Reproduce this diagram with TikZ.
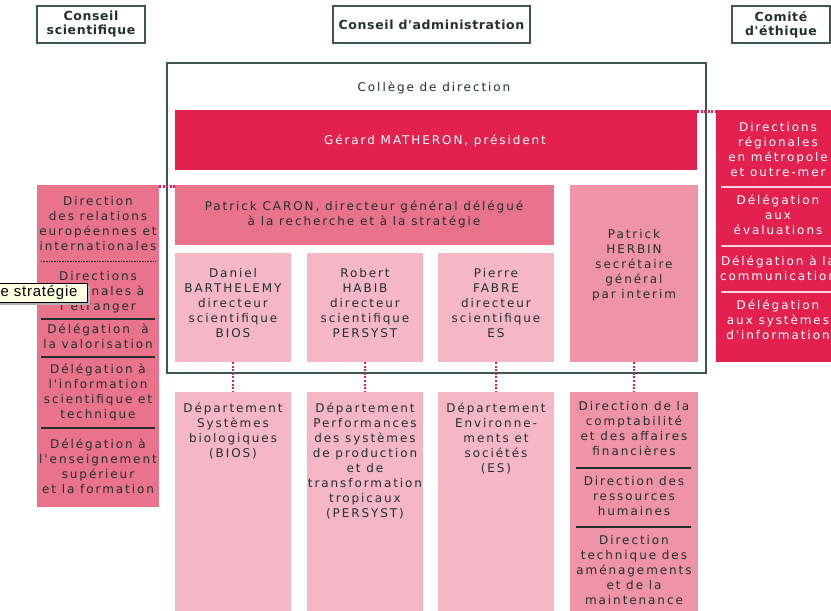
\documentclass[tikz,border=0pt]{standalone}
\usepackage{fontspec}
\setmainfont{DejaVu Sans}
\newfontfamily\vfont[LetterSpace=16]{DejaVu Sans}
\newfontfamily\hfont[LetterSpace=5]{DejaVu Sans}
\newfontfamily\tipfont[LetterSpace=5]{Liberation Sans}
\definecolor{crim}{HTML}{E2214F}
\definecolor{mpink}{HTML}{E9738B}
\definecolor{ppink}{HTML}{EF93A6}
\definecolor{lpink}{HTML}{F5B7C5}
\definecolor{ink}{HTML}{223030}
\definecolor{framec}{HTML}{3C5656}
\definecolor{tipbg}{HTML}{FFFFE1}
\tikzset{
  bx/.style={inner sep=0pt, outer sep=0pt, draw=none},
  hdr/.style={bx, draw=framec, line width=1.2pt, font=\hfont\bfseries\fontsize{12.5}{14}\selectfont, text=ink, align=center},
  tx/.style={inner sep=0pt, anchor=north, align=center, text=ink, font=\vfont\fontsize{12}{15}\selectfont},
  wtx/.style={tx, text=white},
  dotc/.style={draw=crim, line width=2.2pt, dash pattern=on 2pt off 1.6pt},
  sepd/.style={draw=ink, line width=1.3pt},
  sepw/.style={draw=white!80!crim, line width=1.3pt},
}
\newcommand{\bxat}[6]{\node[bx,fill=#6,minimum width=#4-#2,minimum height=#5-#3] (#1) at ({(#2+#4)/2},{(#3+#5)/2}) {};}
\begin{document}
\begin{tikzpicture}[x=1pt,y=-1pt]
\useasboundingbox (0,0) rectangle (831,611);
\clip (0,0) rectangle (831,611);
% headers
\node[hdr, minimum width=108, minimum height=37] (cs) at (91,24.5) {Conseil\\scientifique};
\node[hdr, minimum width=197, minimum height=37] (ca) at (431.5,24.5) {Conseil d'administration};
\node[hdr, minimum width=98, minimum height=37] (ce) at (781,24.5) {Comité\\d'éthique};
% frame
\node[bx, draw=framec, line width=1.3pt, minimum width=539, minimum height=310] (frame) at (436.5,218) {};
\node[tx] (coll) at (434,82) {Collège de direction};
% boxes
\bxat{pres}{175}{110}{697}{170}{crim}
\bxat{caron}{175}{185}{554}{245}{mpink}
\bxat{herbin}{570}{185}{698}{362}{ppink}
\bxat{bios}{175}{253}{291}{362}{lpink}
\bxat{pers}{307}{253}{423}{362}{lpink}
\bxat{es}{438}{253}{554}{362}{lpink}
\bxat{dbios}{175}{392}{291}{620}{lpink}
\bxat{dpers}{307}{392}{423}{620}{lpink}
\bxat{des}{438}{392}{554}{620}{lpink}
\bxat{dadm}{570}{392}{698}{620}{ppink}
\bxat{left}{37}{185}{159}{507}{mpink}
\bxat{right}{716}{110}{840}{362}{crim}
% texts
\node[wtx] at (435,134.5) {Gérard MATHERON, président};
\node[tx] at (364,201) {Patrick CARON, directeur général délégué\\à la recherche et à la stratégie};
\node[tx] at (634,229) {Patrick\\HERBIN\\secrétaire\\général\\par interim};
\node[tx] at (233,268) {Daniel\\BARTHELEMY\\directeur\\scientifique\\BIOS};
\node[tx] at (365,268) {Robert\\HABIB\\directeur\\scientifique\\PERSYST};
\node[tx] at (496,268) {Pierre\\FABRE\\directeur\\scientifique\\ES};
\node[tx] at (233,402.5) {Département\\Systèmes\\biologiques\\(BIOS)};
\node[tx] at (365,402.5) {Département\\Performances\\des systèmes\\de production\\et de\\transformation\\tropicaux\\(PERSYST)};
\node[tx] at (496,402.5) {Département\\Environne-\\ments et\\sociétés\\(ES)};
% admin column
\node[tx] at (634,401) {Direction de la\\comptabilité\\et des affaires\\financières};
\draw[sepd] (576,468) -- (691,468);
\node[tx] at (634,476) {Direction des\\ressources\\humaines};
\draw[sepd] (576,527) -- (691,527);
\node[tx] at (634,535) {Direction\\technique des\\aménagements\\et de la\\maintenance};
% left column
\node[tx] at (98,196) {Direction\\des relations\\européennes et\\internationales};
\draw[draw=ink, line width=0.8pt, dash pattern=on 0.8pt off 0.8pt] (41,261) -- (155,261);
\node[tx] at (98,271) {Directions\\régionales à\\l'étranger};
\draw[sepd] (41,319) -- (155,319);
\node[tx] at (98,324) {Délégation~ à\\la valorisation};
\draw[sepd] (41,357) -- (155,357);
\node[tx] at (98,364) {Délégation à\\l'information\\scientifique et\\technique};
\draw[sepd] (41,428) -- (155,428);
\node[tx] at (98,439) {Délégation à\\l'enseignement\\supérieur\\et la formation};
% right column
\node[wtx] at (778,122) {Directions\\régionales\\en métropole\\et outre-mer};
\draw[sepw] (721,187) -- (840,187);
\node[wtx] at (778,195) {Délégation\\aux\\évaluations};
\draw[sepw] (721,246) -- (840,246);
\node[wtx] at (778,256) {Délégation à la\\communication};
\draw[sepw] (721,292) -- (840,292);
\node[wtx] at (778,300) {Délégation\\aux systèmes\\d'information};
% connectors
\draw[dotc] ([yshift=-1.5pt]pres.north east) -- ([yshift=-1.5pt]right.north west);
\draw[dotc] ([yshift=-1.5pt]left.north east) -- ([yshift=-1.5pt]caron.north west);
\draw[dotc] (bios.south) -- (dbios.north);
\draw[dotc] (pers.south) -- (dpers.north);
\draw[dotc] (es.south) -- (des.north);
\draw[dotc] (herbin.south) -- (dadm.north);
% tooltip
\fill[black!30] (-5,286) rectangle (90,305);
\node[bx, draw=black, line width=0.6pt, fill=tipbg, minimum width=93, minimum height=19] (tip) at (40.5,292.5) {};
\node[inner sep=0pt, anchor=west, text=black, font=\tipfont\fontsize{15}{16}\selectfont] at (0.5,292.5) {e stratégie};
\end{tikzpicture}
\end{document}
